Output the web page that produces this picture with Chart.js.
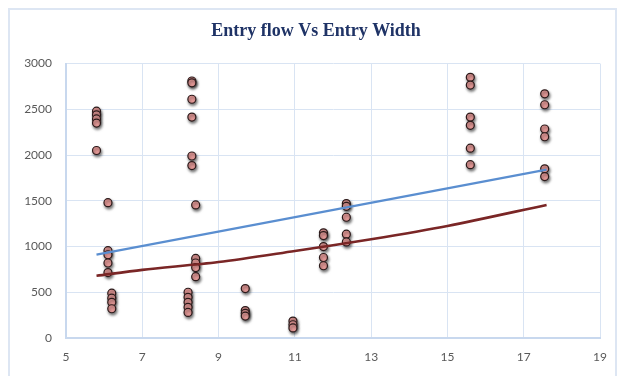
<!DOCTYPE html>
<html>
<head>
<meta charset="utf-8">
<script src="https://cdn.jsdelivr.net/npm/chart.js@4.4.1/dist/chart.umd.min.js"></script>
<style>
  html, body { margin: 0; padding: 0; background: #ffffff; }
  #wrap { position: relative; width: 625px; height: 376px; overflow: hidden; }
  #frame { position: absolute; left: 8px; top: 8px; width: 609px; height: 400px;
           border: 2px solid #dde6f3; box-sizing: border-box; }
  #c { position: absolute; left: 0; top: 0; }
</style>
</head>
<body>
<div id="wrap">
  <div id="frame"></div>
  <canvas id="c" width="625" height="376"></canvas>
</div>
<script>
// Observed entry width (m) and entry flow (veh/h) per approach
const entryWidth = [
  5.8, 5.8, 5.8, 5.8, 5.8,
  6.1, 6.1, 6.1, 6.1, 6.1,
  6.2, 6.2, 6.2, 6.2,
  8.3, 8.3, 8.3, 8.3, 8.3, 8.3,
  8.4, 8.4, 8.4, 8.4, 8.4,
  8.2, 8.2, 8.2, 8.2, 8.2,
  9.7, 9.7, 9.7, 9.7,
  10.95, 10.95, 10.95,
  11.75, 11.75, 11.75, 11.75, 11.75,
  12.35, 12.35, 12.35, 12.35, 12.35,
  15.6, 15.6, 15.6, 15.6, 15.6, 15.6,
  17.55, 17.55, 17.55, 17.55, 17.55, 17.55
];
const entryFlow = [
  2480, 2440, 2395, 2350, 2050,
  1480, 955, 910, 820, 715,
  490, 435, 390, 320,
  2810, 2790, 2610, 2415, 1990, 1885,
  1455, 870, 820, 770, 670,
  500, 445, 390, 335, 280,
  540, 300, 270, 240,
  185, 145, 110,
  1150, 1120, 1000, 880, 790,
  1470, 1440, 1320, 1135, 1050,
  2850, 2765, 2415, 2325, 2075, 1895,
  2670, 2550, 2285, 2200, 1850, 1765
];

// Linear trend line (blue)
const linTrendX = [5.8, 17.6];
const linTrendY = [912, 1840];

// Exponential trend line (dark red)
const expTrendX = [5.8, 7, 9, 11, 13, 15, 17.6];
const expTrendY = [680, 745, 830, 952, 1080, 1225, 1455];

const xTicks = [5, 7, 9, 11, 13, 15, 17, 19];
const yTicks = [0, 500, 1000, 1500, 2000, 2500, 3000];

const pairs = (xs, ys) => xs.map((x, i) => ({ x: x, y: ys[i] }));

const tickFont = { family: 'Lato, "Open Sans", sans-serif', size: 12 };
const gridColor = '#d9e4f3';

// Soft dark halo under the observation markers
const markerShadow = {
  id: 'markerShadow',
  beforeDatasetDraw(chart, args) {
    if (args.index !== 2) return;
    const ctx = chart.ctx;
    ctx.save();
    ctx.shadowColor = 'rgba(0,0,0,0.55)';
    ctx.shadowBlur = 3;
    ctx.shadowOffsetX = 1;
    ctx.shadowOffsetY = 2;
  },
  afterDatasetDraw(chart, args) {
    if (args.index !== 2) return;
    chart.ctx.restore();
  }
};

new Chart(document.getElementById('c'), {
  type: 'scatter',
  data: {
    datasets: [
      {
        label: 'Linear trend',
        data: pairs(linTrendX, linTrendY),
        showLine: true,
        borderColor: '#5a8ed0',
        borderWidth: 2.2,
        pointRadius: 0,
        order: 0
      },
      {
        label: 'Exponential trend',
        data: pairs(expTrendX, expTrendY),
        showLine: true,
        borderColor: '#7a2626',
        borderWidth: 2.6,
        tension: 0.3,
        pointRadius: 0,
        order: 0
      },
      {
        label: 'Entry flow',
        data: pairs(entryWidth, entryFlow),
        backgroundColor: '#e59a98',
        borderColor: '#2b1a1a',
        borderWidth: 1.2,
        pointRadius: 4,
        order: 1
      }
    ]
  },
  options: {
    responsive: false,
    animation: false,
    layout: { padding: { left: 15, right: 8, top: 0, bottom: 8 } },
    plugins: {
      legend: { display: false },
      tooltip: { enabled: false },
      title: {
        display: true,
        text: 'Entry flow Vs Entry Width',
        color: '#1f3366',
        font: { family: '"Liberation Serif", "DejaVu Serif", serif', size: 18, weight: 'bold', lineHeight: 1.2 },
        padding: { top: 21, bottom: 21 }
      }
    },
    scales: {
      x: {
        type: 'linear',
        min: xTicks[0],
        max: xTicks[xTicks.length - 1],
        afterBuildTicks: s => { s.ticks = xTicks.map(v => ({ value: v })); },
        afterFit: s => { s.height = 30; },
        ticks: { color: '#595959', font: tickFont, padding: 12, callback: v => String(v) },
        grid: { color: gridColor, lineWidth: 1, drawTicks: false },
        border: { color: '#c8d8ee', width: 2 }
      },
      y: {
        type: 'linear',
        min: yTicks[0],
        max: yTicks[yTicks.length - 1],
        afterBuildTicks: s => { s.ticks = yTicks.map(v => ({ value: v })); },
        afterFit: s => { s.width = 51; },
        ticks: { color: '#595959', font: tickFont, padding: 14, callback: v => String(v) },
        grid: { color: gridColor, lineWidth: 1, drawTicks: false },
        border: { color: '#c8d8ee', width: 2 }
      },
      // empty right-hand margin axis
      yRight: {
        type: 'linear',
        position: 'right',
        min: yTicks[0],
        max: yTicks[yTicks.length - 1],
        afterFit: s => { s.width = 17; },
        ticks: { display: false },
        grid: { display: false, drawTicks: false },
        border: { display: false }
      }
    }
  },
  plugins: [markerShadow]
});
</script>
</body>
</html>
